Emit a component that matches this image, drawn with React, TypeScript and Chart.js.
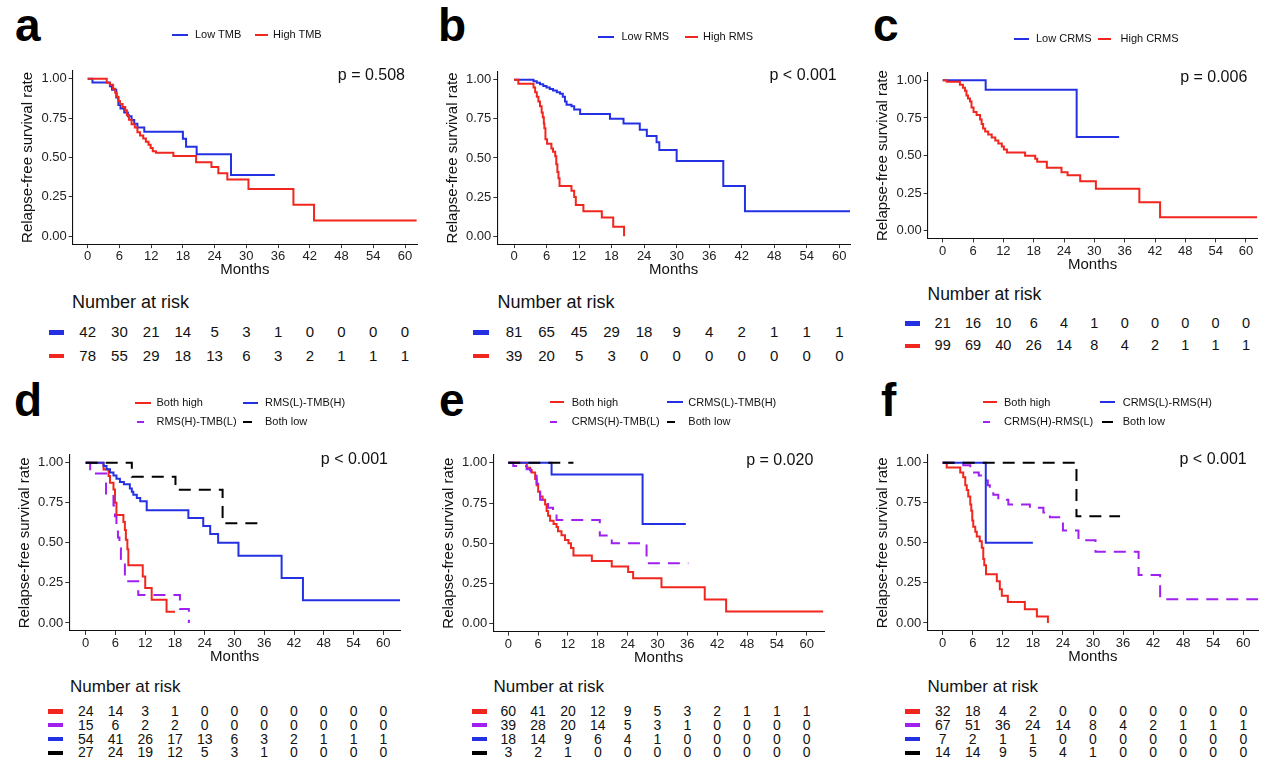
import React, { useEffect, useRef, useState } from 'react';
import { Chart, registerables } from 'chart.js';

Chart.register(...registerables);

const FONT = '"Liberation Sans", Arial, Helvetica, sans-serif';

// ---------- shared axes ----------
const MONTH_TICKS = [0, 6, 12, 18, 24, 30, 36, 42, 48, 54, 60];
const SURV_TICKS = [0, 0.25, 0.5, 0.75, 1];
const SURV_TICK_LABELS = ['0.00', '0.25', '0.50', '0.75', '1.00'];
const X_TITLE = 'Months';
const Y_TITLE = 'Relapse-free survival rate';
const RISK_TITLE = 'Number at risk';

// ---------- panel a ----------
const aLabels = ['Low TMB', 'High TMB'];
const aLowTime = [0, 0.9, 4.2, 4.6, 5.4, 5.8, 6.2, 6.9, 7.6, 8.3, 8.8, 9.4, 10.7, 18.0, 18.6, 20.6, 27.1, 35.4];
const aLowSurv = [1, 0.976, 0.952, 0.929, 0.881, 0.833, 0.81, 0.786, 0.762, 0.738, 0.714, 0.69, 0.663, 0.618, 0.568, 0.52, 0.389, 0.389];
const aHighTime = [0, 3.6, 4.2, 4.8, 5.2, 5.5, 5.8, 6.1, 6.6, 7.1, 7.4, 7.8, 8.3, 8.9, 9.4, 9.9, 10.5, 11.0, 11.5, 11.9, 12.3, 12.9, 16.2, 20.5, 23.4, 24.7, 26.4, 30.4, 38.9, 42.8, 62.2];
const aHighSurv = [1, 0.974, 0.962, 0.936, 0.91, 0.885, 0.858, 0.84, 0.82, 0.8, 0.77, 0.74, 0.71, 0.69, 0.66, 0.64, 0.62, 0.6, 0.58, 0.56, 0.54, 0.53, 0.51, 0.47, 0.44, 0.4, 0.36, 0.3, 0.2, 0.1, 0.1];
const aRiskLow = [42, 30, 21, 14, 5, 3, 1, 0, 0, 0, 0];
const aRiskHigh = [78, 55, 29, 18, 13, 6, 3, 2, 1, 1, 1];

// ---------- panel b ----------
const bLabels = ['Low RMS', 'High RMS'];
const bLowTime = [0, 3.6, 4.2, 4.8, 5.4, 6.0, 6.6, 7.2, 7.9, 8.5, 9.0, 9.4, 9.7, 10.6, 11.1, 12.2, 17.7, 20.2, 23.2, 24.5, 26.3, 26.8, 30.0, 38.6, 42.6, 62.0];
const bLowSurv = [1, 0.99, 0.98, 0.97, 0.96, 0.95, 0.94, 0.93, 0.92, 0.91, 0.89, 0.86, 0.84, 0.83, 0.81, 0.78, 0.75, 0.72, 0.68, 0.64, 0.6, 0.55, 0.48, 0.32, 0.16, 0.16];
const bHighTime = [0, 0.8, 3.6, 3.9, 4.2, 4.5, 4.8, 5.1, 5.3, 5.5, 5.6, 5.8, 6.1, 6.9, 7.2, 7.6, 7.8, 8.0, 8.2, 8.4, 10.6, 11.1, 11.4, 12.8, 16.2, 18.3, 20.3];
const bHighSurv = [1, 0.974, 0.95, 0.92, 0.89, 0.86, 0.83, 0.79, 0.76, 0.72, 0.69, 0.62, 0.59, 0.56, 0.54, 0.51, 0.46, 0.41, 0.37, 0.32, 0.29, 0.25, 0.2, 0.16, 0.12, 0.06, 0];
const bRiskLow = [81, 65, 45, 29, 18, 9, 4, 2, 1, 1, 1];
const bRiskHigh = [39, 20, 5, 3, 0, 0, 0, 0, 0, 0, 0];

// ---------- panel c ----------
const cLabels = ['Low CRMS', 'High CRMS'];
const cLowTime = [0, 8.5, 26.5, 34.9];
const cLowSurv = [1, 0.937, 0.624, 0.624];
const cHighTime = [0, 0.8, 3.4, 4.0, 4.4, 4.7, 5.0, 5.4, 5.7, 6.1, 6.7, 7.4, 7.7, 8.0, 8.4, 9.0, 9.7, 10.4, 11.0, 11.7, 12.1, 12.7, 16.3, 18.3, 18.7, 20.6, 23.5, 24.7, 27.2, 30.3, 38.9, 43.0, 62.2];
const cHighSurv = [1, 0.99, 0.97, 0.95, 0.93, 0.9, 0.88, 0.86, 0.82, 0.79, 0.77, 0.74, 0.71, 0.68, 0.66, 0.64, 0.62, 0.6, 0.58, 0.56, 0.54, 0.52, 0.5, 0.48, 0.46, 0.42, 0.39, 0.37, 0.33, 0.28, 0.19, 0.09, 0.09];
const cRiskLow = [21, 16, 10, 6, 4, 1, 0, 0, 0, 0, 0];
const cRiskHigh = [99, 69, 40, 26, 14, 8, 4, 2, 1, 1, 1];

// ---------- panel d ----------
const dLabels = ['Both high', 'RMS(H)-TMB(L)', 'RMS(L)-TMB(H)', 'Both low'];
const dHHTime = [0, 3.6, 4.6, 4.9, 5.6, 5.9, 6.2, 7.6, 7.9, 8.1, 8.4, 8.6, 11.5, 12.0, 13.3, 16.3, 18.0];
const dHHSurv = [1, 0.958, 0.917, 0.875, 0.833, 0.75, 0.674, 0.63, 0.58, 0.52, 0.46, 0.36, 0.29, 0.218, 0.145, 0.07, 0.07];
const dHLTime = [0, 0.9, 4.1, 5.6, 5.9, 6.2, 6.5, 6.8, 7.1, 7.9, 10.6, 19.0, 20.8];
const dHLSurv = [1, 0.933, 0.8, 0.733, 0.667, 0.6, 0.533, 0.467, 0.4, 0.26, 0.174, 0.087, 0];
const dLHTime = [0, 3.6, 4.2, 4.9, 5.6, 6.2, 6.9, 7.7, 8.9, 9.3, 9.6, 10.3, 11.0, 12.3, 20.7, 23.7, 25.1, 26.7, 30.8, 39.5, 43.8, 63.4];
const dLHSurv = [1, 0.98, 0.96, 0.94, 0.92, 0.9, 0.88, 0.866, 0.84, 0.82, 0.8, 0.78, 0.76, 0.704, 0.655, 0.605, 0.555, 0.5, 0.42, 0.28, 0.142, 0.142];
const dLLTime = [0, 9.3, 18.1, 27.6, 36.2];
const dLLSurv = [1, 0.913, 0.832, 0.623, 0.623];
const dRiskHH = [24, 14, 3, 1, 0, 0, 0, 0, 0, 0, 0];
const dRiskHL = [15, 6, 2, 2, 0, 0, 0, 0, 0, 0, 0];
const dRiskLH = [54, 41, 26, 17, 13, 6, 3, 2, 1, 1, 1];
const dRiskLL = [27, 24, 19, 12, 5, 3, 1, 0, 0, 0, 0];

// ---------- panel e ----------
const eLabels = ['Both high', 'CRMS(H)-TMB(L)', 'CRMS(L)-TMB(H)', 'Both low'];
const eHHTime = [0, 3.7, 4.4, 4.7, 5.4, 5.7, 6.0, 6.4, 6.9, 7.4, 7.7, 8.0, 8.4, 9.1, 9.7, 10.0, 10.7, 11.4, 12.1, 12.6, 13.1, 16.8, 20.8, 24.1, 25.1, 30.8, 39.5, 43.8, 63.3];
const eHHSurv = [1, 0.97, 0.955, 0.94, 0.9, 0.86, 0.82, 0.79, 0.77, 0.74, 0.7, 0.67, 0.64, 0.62, 0.6, 0.575, 0.55, 0.52, 0.5, 0.47, 0.423, 0.389, 0.355, 0.32, 0.282, 0.225, 0.15, 0.075, 0.075];
const eHLTime = [0, 1.0, 3.7, 4.5, 5.7, 6.0, 6.4, 8.0, 9.0, 9.7, 18.4, 20.8, 27.8, 36.2];
const eHLSurv = [1, 0.98, 0.96, 0.92, 0.87, 0.82, 0.77, 0.72, 0.69, 0.645, 0.548, 0.5, 0.375, 0.375];
const eLHTime = [0, 8.7, 27.0, 35.7];
const eLHSurv = [1, 0.927, 0.62, 0.62];
const eLLTime = [0, 13.1];
const eLLSurv = [1, 1];
const eRiskHH = [60, 41, 20, 12, 9, 5, 3, 2, 1, 1, 1];
const eRiskHL = [39, 28, 20, 14, 5, 3, 1, 0, 0, 0, 0];
const eRiskLH = [18, 14, 9, 6, 4, 1, 0, 0, 0, 0, 0];
const eRiskLL = [3, 2, 1, 0, 0, 0, 0, 0, 0, 0, 0];

// ---------- panel f ----------
const fLabels = ['Both high', 'CRMS(H)-RMS(L)', 'CRMS(L)-RMS(H)', 'Both low'];
const fHHTime = [0, 0.8, 3.5, 4.1, 4.5, 4.8, 5.1, 5.5, 5.7, 5.9, 6.1, 6.5, 6.8, 7.4, 7.8, 8.1, 8.3, 8.65, 10.8, 11.4, 11.8, 13.0, 16.4, 18.8, 21.0];
const fHHSurv = [1, 0.97, 0.94, 0.91, 0.86, 0.83, 0.79, 0.74, 0.7, 0.64, 0.6, 0.57, 0.54, 0.51, 0.47, 0.4, 0.36, 0.304, 0.26, 0.21, 0.17, 0.13, 0.085, 0.04, 0];
const fHLTime = [0, 4.1, 5.5, 6.0, 7.2, 8.1, 9.0, 9.4, 10.1, 11.1, 13.1, 17.4, 20.1, 21.4, 24.0, 27.1, 30.5, 39.1, 43.4, 63.0];
const fHLSurv = [1, 0.985, 0.97, 0.94, 0.92, 0.89, 0.86, 0.83, 0.8, 0.77, 0.74, 0.72, 0.69, 0.66, 0.577, 0.516, 0.445, 0.3, 0.148, 0.148];
const fLHTime = [0, 8.6, 18.0];
const fLHSurv = [1, 0.5, 0.5];
const fLLTime = [0, 26.7, 35.4];
const fLLSurv = [1, 0.667, 0.667];
const fRiskHH = [32, 18, 4, 2, 0, 0, 0, 0, 0, 0, 0];
const fRiskHL = [67, 51, 36, 24, 14, 8, 4, 2, 1, 1, 1];
const fRiskLH = [7, 2, 1, 1, 0, 0, 0, 0, 0, 0, 0];
const fRiskLL = [14, 14, 9, 5, 4, 1, 0, 0, 0, 0, 0];

// ---------- styles ----------
const RED = '#f0261f';
const BLUE = '#2431e2';
const PURPLE = '#a020f0';
const BLACK = '#000000';
const DASH = [12, 8];

type Curve = { label: string; time: number[]; surv: number[]; color: string; dashed: boolean; risk: number[] };
type Key = { idx: number; kx0: number; kx1: number; tx: number; cy: number };
type Spec = {
  letter: string; lx: number; lBase: number;
  curves: Curve[];
  keys: Key[];
  pText: string; pRight: number; pCy: number;
  geo: { x0: number; x60: number; y0: number; y1: number; axL: number; axR: number };
  risk: { tx: number; tcy: number; tsize: number; rows: number[]; d0: number; d1: number; nsize: number };
};

const mk = (label: string, time: number[], surv: number[], color: string, dashed: boolean, risk: number[]): Curve =>
  ({ label, time, surv, color, dashed, risk });

const ROWS4 = [711.7, 725.2, 739.0, 752.8];

const SPECS: Spec[] = [
  {
    letter: 'a', lx: 15, lBase: 42,
    curves: [mk(aLabels[0], aLowTime, aLowSurv, BLUE, false, aRiskLow), mk(aLabels[1], aHighTime, aHighSurv, RED, false, aRiskHigh)],
    keys: [{ idx: 0, kx0: 172, kx1: 188, tx: 195, cy: 35 }, { idx: 1, kx0: 255, kx1: 268, tx: 273, cy: 35 }],
    pText: 'p = 0.508', pRight: 405, pCy: 75,
    geo: { x0: 87.7, x60: 405, y0: 236, y1: 73.7, axL: 72.7, axR: 417 },
    risk: { tx: 72, tcy: 302.3, tsize: 18, rows: [332.3, 356], d0: 49, d1: 64.3, nsize: 15 },
  },
  {
    letter: 'b', lx: 438, lBase: 42,
    curves: [mk(bLabels[0], bLowTime, bLowSurv, BLUE, false, bRiskLow), mk(bLabels[1], bHighTime, bHighSurv, RED, false, bRiskHigh)],
    keys: [{ idx: 0, kx0: 598, kx1: 614, tx: 621.5, cy: 37 }, { idx: 1, kx0: 685, kx1: 698, tx: 703, cy: 37 }],
    pText: 'p < 0.001', pRight: 836.7, pCy: 75,
    geo: { x0: 514, x60: 839.3, y0: 236, y1: 74.7, axL: 497.3, axR: 850 },
    risk: { tx: 497.5, tcy: 302.3, tsize: 18, rows: [332.3, 356], d0: 473.3, d1: 489.3, nsize: 15 },
  },
  {
    letter: 'c', lx: 873, lBase: 42,
    curves: [mk(cLabels[0], cLowTime, cLowSurv, BLUE, false, cRiskLow), mk(cLabels[1], cHighTime, cHighSurv, RED, false, cRiskHigh)],
    keys: [{ idx: 0, kx0: 1014, kx1: 1029, tx: 1036, cy: 39 }, { idx: 1, kx0: 1098, kx1: 1111, tx: 1120.5, cy: 39 }],
    pText: 'p = 0.006', pRight: 1247.3, pCy: 76.7,
    geo: { x0: 942.7, x60: 1246, y0: 230.7, y1: 75.7, axL: 927.7, axR: 1257.5 },
    risk: { tx: 927.5, tcy: 294.3, tsize: 17.5, rows: [323.3, 346], d0: 905, d1: 920, nsize: 14.5 },
  },
  {
    letter: 'd', lx: 14, lBase: 417,
    curves: [
      mk(dLabels[0], dHHTime, dHHSurv, RED, false, dRiskHH),
      mk(dLabels[1], dHLTime, dHLSurv, PURPLE, true, dRiskHL),
      mk(dLabels[2], dLHTime, dLHSurv, BLUE, false, dRiskLH),
      mk(dLabels[3], dLLTime, dLLSurv, BLACK, true, dRiskLL),
    ],
    keys: [
      { idx: 0, kx0: 135, kx1: 151, tx: 156.5, cy: 402.7 },
      { idx: 2, kx0: 243, kx1: 258, tx: 265, cy: 402.7 },
      { idx: 1, kx0: 137, kx1: 144, tx: 156.5, cy: 421.7 },
      { idx: 3, kx0: 243, kx1: 252, tx: 265, cy: 421.7 },
    ],
    pText: 'p < 0.001', pRight: 388, pCy: 459,
    geo: { x0: 85.7, x60: 383.3, y0: 622.7, y1: 458, axL: 69.3, axR: 400 },
    risk: { tx: 70, tcy: 686.7, tsize: 17, rows: ROWS4, d0: 48.3, d1: 63.3, nsize: 14 },
  },
  {
    letter: 'e', lx: 439, lBase: 417,
    curves: [
      mk(eLabels[0], eHHTime, eHHSurv, RED, false, eRiskHH),
      mk(eLabels[1], eHLTime, eHLSurv, PURPLE, true, eRiskHL),
      mk(eLabels[2], eLHTime, eLHSurv, BLUE, false, eRiskLH),
      mk(eLabels[3], eLLTime, eLLSurv, BLACK, true, eRiskLL),
    ],
    keys: [
      { idx: 0, kx0: 550, kx1: 564, tx: 571.7, cy: 402.3 },
      { idx: 2, kx0: 667, kx1: 683, tx: 688.3, cy: 402.3 },
      { idx: 1, kx0: 550, kx1: 557, tx: 571.7, cy: 421.7 },
      { idx: 3, kx0: 667, kx1: 675, tx: 688.3, cy: 421.7 },
    ],
    pText: 'p = 0.020', pRight: 813.3, pCy: 460,
    geo: { x0: 508.3, x60: 806.7, y0: 623.3, y1: 458, axL: 493.3, axR: 824 },
    risk: { tx: 493.5, tcy: 686.7, tsize: 17, rows: ROWS4, d0: 471.7, d1: 486.7, nsize: 14 },
  },
  {
    letter: 'f', lx: 881, lBase: 417,
    curves: [
      mk(fLabels[0], fHHTime, fHHSurv, RED, false, fRiskHH),
      mk(fLabels[1], fHLTime, fHLSurv, PURPLE, true, fRiskHL),
      mk(fLabels[2], fLHTime, fLHSurv, BLUE, false, fRiskLH),
      mk(fLabels[3], fLLTime, fLLSurv, BLACK, true, fRiskLL),
    ],
    keys: [
      { idx: 0, kx0: 983, kx1: 997, tx: 1004, cy: 402.3 },
      { idx: 2, kx0: 1100, kx1: 1115, tx: 1122.7, cy: 402.3 },
      { idx: 1, kx0: 983, kx1: 990, tx: 1004, cy: 421.7 },
      { idx: 3, kx0: 1102, kx1: 1113, tx: 1122.7, cy: 421.7 },
    ],
    pText: 'p < 0.001', pRight: 1246.7, pCy: 459,
    geo: { x0: 942.7, x60: 1243.3, y0: 622.7, y1: 458, axL: 927.3, axR: 1258.3 },
    risk: { tx: 927.5, tcy: 686.7, tsize: 17, rows: ROWS4, d0: 905, d1: 920, nsize: 14 },
  },
];

function Txt(props: { x: number; cy: number; size: number; text: string; align?: 'left' | 'right' | 'center'; weight?: number; color?: string }) {
  const { x, cy, size, text, align = 'left', weight = 400, color = '#111' } = props;
  const lh = size * 1.2;
  const W = 300;
  let left = x;
  if (align === 'right') left = x - W;
  if (align === 'center') left = x - W / 2;
  return (
    <div
      style={{
        position: 'absolute', left, top: cy - lh / 2, width: align === 'left' ? undefined : W,
        textAlign: align, fontFamily: FONT, fontSize: size, lineHeight: `${lh}px`, fontWeight: weight,
        color, whiteSpace: 'nowrap',
      }}
    >
      {text}
    </div>
  );
}

function Panel({ spec }: { spec: Spec }) {
  const ref = useRef<HTMLCanvasElement>(null);
  const [tickPx, setTickPx] = useState<number[]>([]);
  const g = spec.geo;
  const ppm = (g.x60 - g.x0) / 60;
  const ppu = g.y0 - g.y1;
  const axT = g.y1 - 0.05 * ppu;
  const axB = g.y0 + 0.05 * ppu;
  const xMin = (g.axL - g.x0) / ppm;
  const xMax = (g.axR - g.x0) / ppm;
  const XH = 36;
  const cl = Math.floor(g.axL - 53);
  const ct = Math.floor(axT - 4);
  const cr = Math.ceil(g.axR + 4);
  const cb = Math.ceil(axB + XH);
  const cw = cr - cl;
  const ch = cb - ct;
  const yw = g.axL - cl;
  const pt = axT - ct;
  const pr = cr - g.axR;
  const pb = cb - (axB + XH);

  useEffect(() => {
    const canvas = ref.current;
    if (!canvas) return;
    const n = spec.curves.length;
    const axisGrid = {
      display: true, drawOnChartArea: false, drawTicks: true, tickLength: 4,
      color: '#333333', tickColor: '#333333', lineWidth: 1, tickWidth: 1,
    };
    const axisBorder = { display: true, color: '#111111', width: 1.1 };
    const chart = new Chart(canvas, {
      type: 'line',
      data: {
        datasets: spec.curves.map((c, i) => ({
          label: c.label,
          data: c.time.map((t, j) => ({ x: t, y: c.surv[j] })),
          borderColor: c.color,
          backgroundColor: c.color,
          borderWidth: 2,
          borderDash: c.dashed ? DASH : [],
          borderCapStyle: 'butt',
          pointRadius: 0,
          pointHoverRadius: 0,
          stepped: 'before',
          fill: false,
          tension: 0,
          order: n - i,
        })),
      },
      options: {
        responsive: false,
        maintainAspectRatio: false,
        animation: false,
        events: [],
        layout: { autoPadding: false, padding: { left: 0, top: pt, right: pr, bottom: pb } },
        plugins: { legend: { display: false }, tooltip: { enabled: false }, title: { display: false } },
        scales: {
          x: {
            type: 'linear', min: xMin, max: xMax,
            afterBuildTicks: (s: any) => { s.ticks = MONTH_TICKS.map((v) => ({ value: v })); },
            afterFit: (s: any) => { s.height = XH; },
            grid: axisGrid,
            border: axisBorder,
            ticks: { autoSkip: false, maxRotation: 0, minRotation: 0, padding: 1, color: '#222222', font: { family: FONT, size: 13 } },
            title: { display: true, text: X_TITLE, color: '#111111', font: { family: FONT, size: 15 }, padding: { top: 0, bottom: 1 } },
          },
          y: {
            type: 'linear', min: -0.05, max: 1.05,
            afterBuildTicks: (s: any) => { s.ticks = SURV_TICKS.map((v) => ({ value: v })); },
            afterFit: (s: any) => { s.width = yw; },
            grid: axisGrid,
            border: axisBorder,
            ticks: {
              autoSkip: false, padding: 2, color: '#222222', font: { family: FONT, size: 13 },
              callback: (v: any) => {
                const k = SURV_TICKS.indexOf(Number(v));
                return k >= 0 ? SURV_TICK_LABELS[k] : '';
              },
            },
            title: { display: true, text: Y_TITLE, color: '#111111', font: { family: FONT, size: 15 }, padding: { top: 0, bottom: 0 } },
          },
        },
      } as any,
    });
    const sx = chart.scales.x;
    setTickPx(MONTH_TICKS.map((v) => cl + sx.getPixelForValue(v)));
    return () => chart.destroy();
  }, []);

  const r = spec.risk;
  return (
    <>
      <canvas ref={ref} width={cw} height={ch} style={{ position: 'absolute', left: cl, top: ct, width: cw, height: ch }} />
      <div
        style={{
          position: 'absolute', left: spec.lx, top: spec.lBase - 46 * 0.9465, fontFamily: FONT, fontSize: 46,
          lineHeight: `${46 * 1.2}px`, fontWeight: 700, color: '#000', whiteSpace: 'nowrap',
        }}
      >
        {spec.letter}
      </div>
      {spec.keys.map((k, i) => {
        const c = spec.curves[k.idx];
        return (
          <React.Fragment key={'k' + i}>
            <div style={{ position: 'absolute', left: k.kx0, top: k.cy - 1, width: k.kx1 - k.kx0, height: 2, background: c.color }} />
            <Txt x={k.tx} cy={k.cy} size={11} text={c.label} />
          </React.Fragment>
        );
      })}
      <Txt x={spec.pRight} cy={spec.pCy} size={16} text={spec.pText} align="right" />
      <Txt x={r.tx} cy={r.tcy} size={r.tsize} text={RISK_TITLE} />
      {spec.curves.map((c, i) => (
        <React.Fragment key={'r' + i}>
          <div style={{ position: 'absolute', left: r.d0, top: r.rows[i] - 2.3, width: r.d1 - r.d0, height: 4.6, background: c.color }} />
          {tickPx.length > 0 &&
            c.risk.map((v, j) => (
              <Txt key={'n' + j} x={tickPx[j]} cy={r.rows[i]} size={r.nsize} text={String(v)} align="center" />
            ))}
        </React.Fragment>
      ))}
    </>
  );
}

export default function App() {
  return (
    <div style={{ position: 'absolute', left: 0, top: 0, width: 1270, height: 776, background: '#ffffff', overflow: 'hidden' }}>
      {SPECS.map((s) => (
        <Panel key={s.letter} spec={s} />
      ))}
    </div>
  );
}
